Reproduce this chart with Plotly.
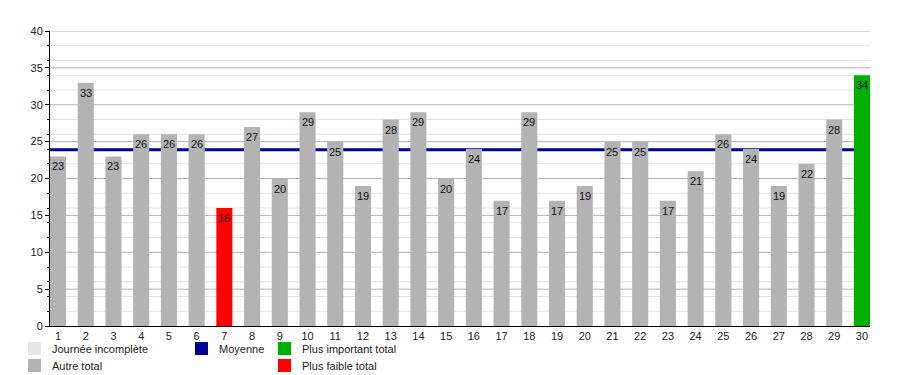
import plotly.graph_objects as go

days = list(range(1, 31))
totals = [23, 33, 23, 26, 26, 26, 16, 27, 20, 29, 25, 19, 28, 29, 20,
          24, 17, 29, 17, 19, 25, 25, 17, 21, 26, 24, 19, 22, 28, 34]

legend_labels = ["Journée incomplète", "Autre total", "Moyenne",
                 "Plus important total", "Plus faible total"]
legend_colors = ["#e6e6e6", "#b3b3b3", "#000099", "#00b000", "#ff0000"]

GRAY, NAVY, GREEN, RED = "#b3b3b3", "#000099", "#00b000", "#ff0000"

mx, mn = max(totals), min(totals)
colors = [GREEN if v == mx else RED if v == mn else GRAY for v in totals]
mean = sum(totals) / len(totals)

XRANGE = [0.71, 30.29]
YMAX = 40
MAJOR, MINOR = 5, 2
FONT = "Liberation Sans, Arial, sans-serif"

fig = go.Figure()
fig.add_trace(go.Bar(
    x=days, y=totals, marker=dict(color=colors, line=dict(width=0)),
    showlegend=False, hoverinfo="x+y",
))

# grid lines drawn as background shapes (minor then major)
for v in range(MINOR, YMAX + 1, MINOR):
    if v % MAJOR:
        fig.add_shape(type="line", xref="paper", x0=0, x1=1, yref="y", y0=v, y1=v,
                      line=dict(color="#e3e3e3", width=1), layer="below")
for v in range(MAJOR, YMAX + 1, MAJOR):
    fig.add_shape(type="line", xref="paper", x0=0, x1=1, yref="y", y0=v, y1=v,
                  line=dict(color="#b3b3b3", width=1), layer="below")
# mean line above the grid, below the bars
fig.add_shape(type="line", xref="paper", x0=0, x1=1, yref="y", y0=mean, y1=mean,
              line=dict(color=NAVY, width=3), layer="below")

# value labels inside the top of each bar
for d, v in zip(days, totals):
    fig.add_annotation(x=d, y=v, text=str(v), showarrow=False, yanchor="top",
                       yshift=-2, font=dict(family=FONT, size=11, color="#111111"))

# manual legend (grid layout)
positions = [(28, 342), (28, 359), (195, 342), (278, 342), (278, 359)]
W, H = 900, 375
ml, mr, mt, mb = 50, 30, 31, 49
pw, ph = W - ml - mr, H - mt - mb
def px2paper(x, y):
    return (x - ml) / pw, 1 - (y - mt) / ph

for lab, col, (x, y) in zip(legend_labels, legend_colors, positions):
    x0, y0 = px2paper(x, y)
    x1, y1 = px2paper(x + 13, y + 13)
    fig.add_shape(type="rect", xref="paper", yref="paper", x0=x0, x1=x1, y0=y1, y1=y0,
                  fillcolor=col, line=dict(width=0))
    tx, ty = px2paper(x + 22, y + 7)
    fig.add_annotation(xref="paper", yref="paper", x=tx, y=ty, text=lab,
                       showarrow=False, xanchor="left", yanchor="middle",
                       font=dict(family=FONT, size=11, color="#222222"))

fig.update_layout(
    width=W, height=H, margin=dict(l=ml, r=mr, t=mt, b=mb),
    paper_bgcolor="white", plot_bgcolor="white",
    bargap=0.42, font=dict(family=FONT, size=11, color="#222222"),
    xaxis=dict(range=XRANGE, tickmode="array", tickvals=days,
               ticktext=[str(d) for d in days], showgrid=False, zeroline=False,
               showline=True, linecolor="black", linewidth=1, ticks="",
               tickfont=dict(size=11)),
    yaxis=dict(range=[0, YMAX], tick0=0, dtick=MAJOR, showgrid=False,
               zeroline=False, showline=True, linecolor="black",
               linewidth=1, ticks="outside", ticklen=4, tickcolor="black",
               tickfont=dict(size=11),
               minor=dict(tick0=0, dtick=MINOR, showgrid=False,
                          ticks="outside", ticklen=2, tickcolor="black")),
)

fig.write_html("out.html", config={"displayModeBar": False},
               post_script="document.body.style.margin='0';document.body.style.overflow='hidden';")
